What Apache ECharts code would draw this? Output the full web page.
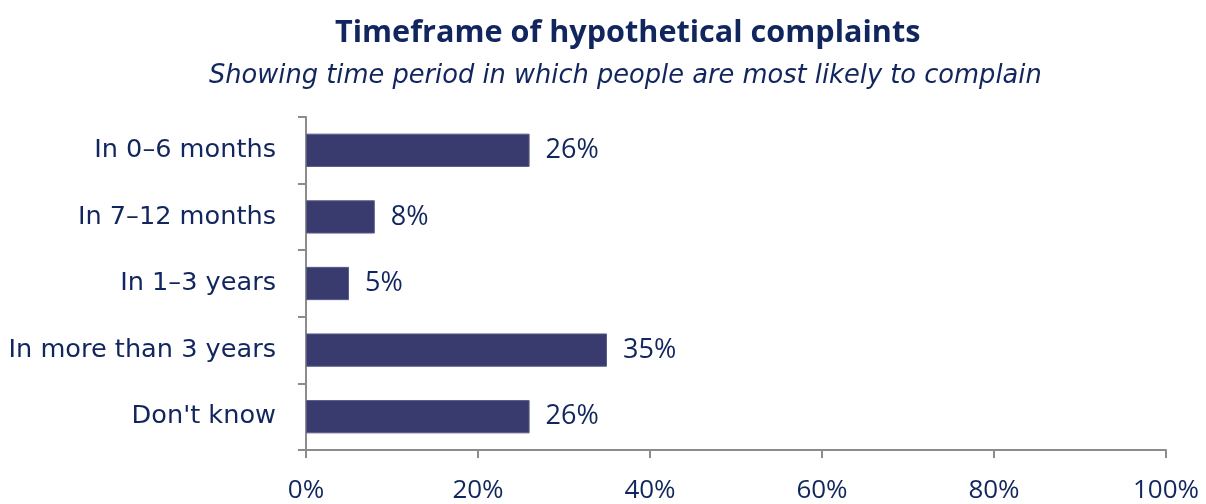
<!DOCTYPE html>
<html>
  <head>
    <meta charset="utf-8" />
    <title>Timeframe of hypothetical complaints</title>
    <script src="https://cdn.jsdelivr.net/npm/echarts@6.0.0/dist/echarts.min.js"></script>
    <style>
      html, body { margin: 0; padding: 0; background: #fff; }
    </style>
  </head>
  <body>
    <div id="chart" style="width: 1206px;height:504px;"></div>
    <script type="text/javascript">

      // data
      var categories = ['In 0\u20136 months', 'In 7\u201312 months', 'In 1\u20133 years', 'In more than 3 years', "Don't know"];
      var shares = [26, 8, 5, 35, 26];

      var navy = '#12265e';
      var axisGrey = '#8c8c8c';

      var chart = echarts.init(document.getElementById('chart'));

      var option = {
        backgroundColor: '#ffffff',
        title: [
          {
            text: 'Timeframe of hypothetical complaints',
            left: 330,
            top: 13,
            textStyle: {
              color: navy,
              fontFamily: 'Open Sans',
              fontSize: 30.6,
              fontWeight: 'bold'
            }
          },
          {
            text: 'Showing time period in which people are most likely to complain',
            left: 204,
            top: 58,
            textStyle: {
              color: navy,
              fontFamily: 'DejaVu Sans',
              fontStyle: 'italic',
              fontWeight: 'normal',
              fontSize: 25.7
            }
          }
        ],
        grid: {
          left: 306,
          right: 40,
          top: 117,
          bottom: 53,
          containLabel: false
        },
        xAxis: {
          type: 'value',
          min: 0,
          max: 100,
          interval: 20,
          axisLine: { show: true, lineStyle: { color: axisGrey, width: 2 } },
          axisTick: { show: true, length: 8, lineStyle: { color: axisGrey, width: 2 } },
          splitLine: { show: false },
          axisLabel: {
            color: navy,
            fontFamily: 'Open Sans',
            fontSize: 26,
            margin: 28,
            formatter: '{value}%'
          }
        },
        yAxis: {
          type: 'category',
          inverse: true,
          data: categories,
          axisLine: { show: true, lineStyle: { color: axisGrey, width: 2 } },
          axisTick: { show: true, length: 8, lineStyle: { color: axisGrey, width: 2 } },
          axisLabel: {
            color: navy,
            fontFamily: 'DejaVu Sans',
            fontSize: 25.6,
            margin: 30
          }
        },
        series: [
          {
            type: 'bar',
            data: shares,
            barWidth: '50%',
            itemStyle: {
              color: '#393b6e',
              borderColor: '#5a5c8a',
              borderWidth: 1
            },
            label: {
              show: true,
              position: 'right',
              distance: 16,
              color: navy,
              fontFamily: 'Open Sans',
              fontSize: 27,
              formatter: '{c}%'
            }
          }
        ]
      };
      chart.setOption(option);
    </script>
  </body>
</html>
